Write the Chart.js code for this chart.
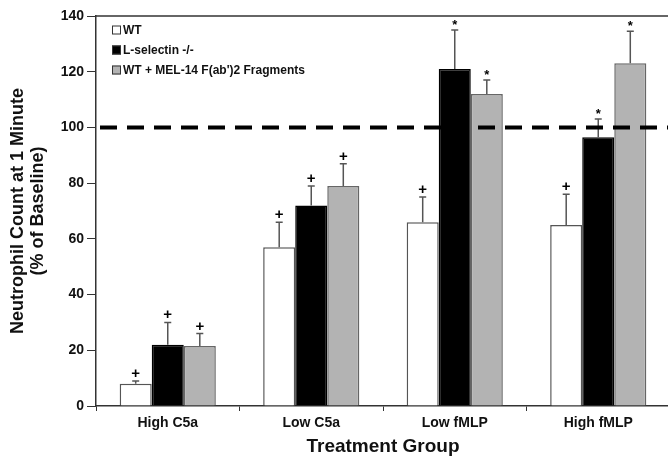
<!DOCTYPE html>
<html>
<head>
<meta charset="utf-8">
<script src="https://cdn.jsdelivr.net/npm/chart.js@4"></script>
<style>
  html, body { margin: 0; padding: 0; background: #fff; overflow: hidden; }
  #wrap { width: 668px; height: 458px; overflow: hidden; }
</style>
</head>
<body>
<div id="wrap"><canvas id="chart" width="674" height="458" style="width:674px;height:458px"></canvas></div>
<script>
const groups = ["High C5a", "Low C5a", "Low fMLP", "High fMLP"];
const seriesNames = ["WT", "L-selectin -/-", "WT + MEL-14 F(ab')2 Fragments"];
const wt = [8, 57, 66, 65];
const lsel = [22, 72, 121, 96.5];
const mel = [21.5, 79, 112, 123];
const wtErr = [9, 66, 75, 76];
const lselErr = [30, 79, 135, 103];
const melErr = [26, 87, 117, 134.5];
const wtMark = ["+", "+", "+", "+"];
const lselMark = ["+", "+", "*", "*"];
const melMark = ["+", "+", "*", "*"];
const yTicks = [0, 20, 40, 60, 80, 100, 120, 140];
const baseline = 100;

const fontFam = "'Liberation Sans', Arial, sans-serif";

const errs = [wtErr, lselErr, melErr];
const marks = [wtMark, lselMark, melMark];

const extras = {
  id: "extras",
  afterDatasetsDraw(chart) {
    const ctx = chart.ctx;
    const y = chart.scales.y;
    const area = chart.chartArea;
    ctx.save();
    // frame top line
    ctx.strokeStyle = "#333";
    ctx.lineWidth = 1.5;
    ctx.beginPath();
    ctx.moveTo(area.left, area.top);
    ctx.lineTo(area.right, area.top);
    ctx.stroke();
    // error bars + markers
    chart.data.datasets.forEach((ds, i) => {
      const meta = chart.getDatasetMeta(i);
      meta.data.forEach((bar, j) => {
        const top = y.getPixelForValue(ds.data[j]);
        const ye = y.getPixelForValue(errs[i][j]);
        ctx.strokeStyle = "#555";
        ctx.lineWidth = 1.5;
        ctx.beginPath();
        ctx.moveTo(bar.x, top);
        ctx.lineTo(bar.x, ye);
        ctx.moveTo(bar.x - 3.5, ye);
        ctx.lineTo(bar.x + 3.5, ye);
        ctx.stroke();
        ctx.fillStyle = "#000";
        ctx.textAlign = "center";
        ctx.textBaseline = "alphabetic";
        if (marks[i][j] === "*") {
          ctx.font = "bold 13px " + fontFam;
          ctx.fillText("*", bar.x, ye - 1);
        } else {
          ctx.font = "bold 15px " + fontFam;
          ctx.fillText("+", bar.x, ye - 3);
        }
      });
    });
    // baseline dashed
    const yb = y.getPixelForValue(baseline);
    ctx.strokeStyle = "#000";
    ctx.lineWidth = 4;
    ctx.setLineDash([17, 10]);
    ctx.beginPath();
    ctx.moveTo(area.left + 4, yb);
    ctx.lineTo(area.right, yb);
    ctx.stroke();
    ctx.setLineDash([]);
    // legend
    const lx = 112, ly = [30, 50, 70];
    chart.data.datasets.forEach((ds, i) => {
      ctx.fillStyle = ds.backgroundColor;
      ctx.fillRect(lx, ly[i] - 4.5, 9, 9);
      ctx.strokeStyle = "#333";
      ctx.lineWidth = 1;
      ctx.strokeRect(lx + 0.5, ly[i] - 4, 8, 8);
      ctx.fillStyle = "#111";
      ctx.font = "bold 12px " + fontFam;
      ctx.textAlign = "left";
      ctx.textBaseline = "middle";
      ctx.fillText(ds.label, lx + 11, ly[i] + 0.5);
    });
    ctx.restore();
  }
};

new Chart(document.getElementById("chart"), {
  type: "bar",
  data: {
    labels: groups,
    datasets: [
      { label: seriesNames[0], data: wt, backgroundColor: "#ffffff", borderColor: "#555", borderWidth: 1.5 },
      { label: seriesNames[1], data: lsel, backgroundColor: "#000000", borderColor: "#000", borderWidth: 1.5 },
      { label: seriesNames[2], data: mel, backgroundColor: "#b3b3b3", borderColor: "#666", borderWidth: 1.5 },
    ],
  },
  options: {
    responsive: false,
    animation: false,
    layout: { padding: { top: 16, right: 4, left: 0, bottom: 0 } },
    plugins: { legend: { display: false }, tooltip: { enabled: false } },
    datasets: { bar: { categoryPercentage: 0.67, barPercentage: 1.0 } },
    scales: {
      x: {
        grid: { display: true, drawOnChartArea: false, offset: true, tickLength: 5, color: "#333", lineWidth: 1 },
        border: { display: true, color: "#333", width: 1.5 },
        ticks: { color: "#111", font: { family: fontFam, size: 14, weight: "bold" }, padding: 4 },
        title: { display: true, text: "Treatment Group", color: "#111", font: { family: fontFam, size: 19, weight: "bold" }, padding: { top: 0, bottom: 0 } },
        afterFit(s) { s.height = 52; },
      },
      y: {
        min: 0,
        max: 140,
        afterBuildTicks(s) { s.ticks = yTicks.map(v => ({ value: v })); },
        grid: { display: true, drawOnChartArea: false, tickLength: 9, color: "#333", lineWidth: 1 },
        border: { display: true, color: "#333", width: 1.5 },
        ticks: { color: "#111", font: { family: fontFam, size: 14, weight: "bold" }, padding: 3 },
        title: { display: true, text: ["Neutrophil Count at 1 Minute", "(% of Baseline)"], color: "#111", font: { family: fontFam, size: 18, weight: "bold", lineHeight: 1.1 }, padding: { top: 8, bottom: 6 } },
        afterFit(s) { s.width = 96; },
      },
    },
  },
  plugins: [extras],
});
</script>
</body>
</html>
